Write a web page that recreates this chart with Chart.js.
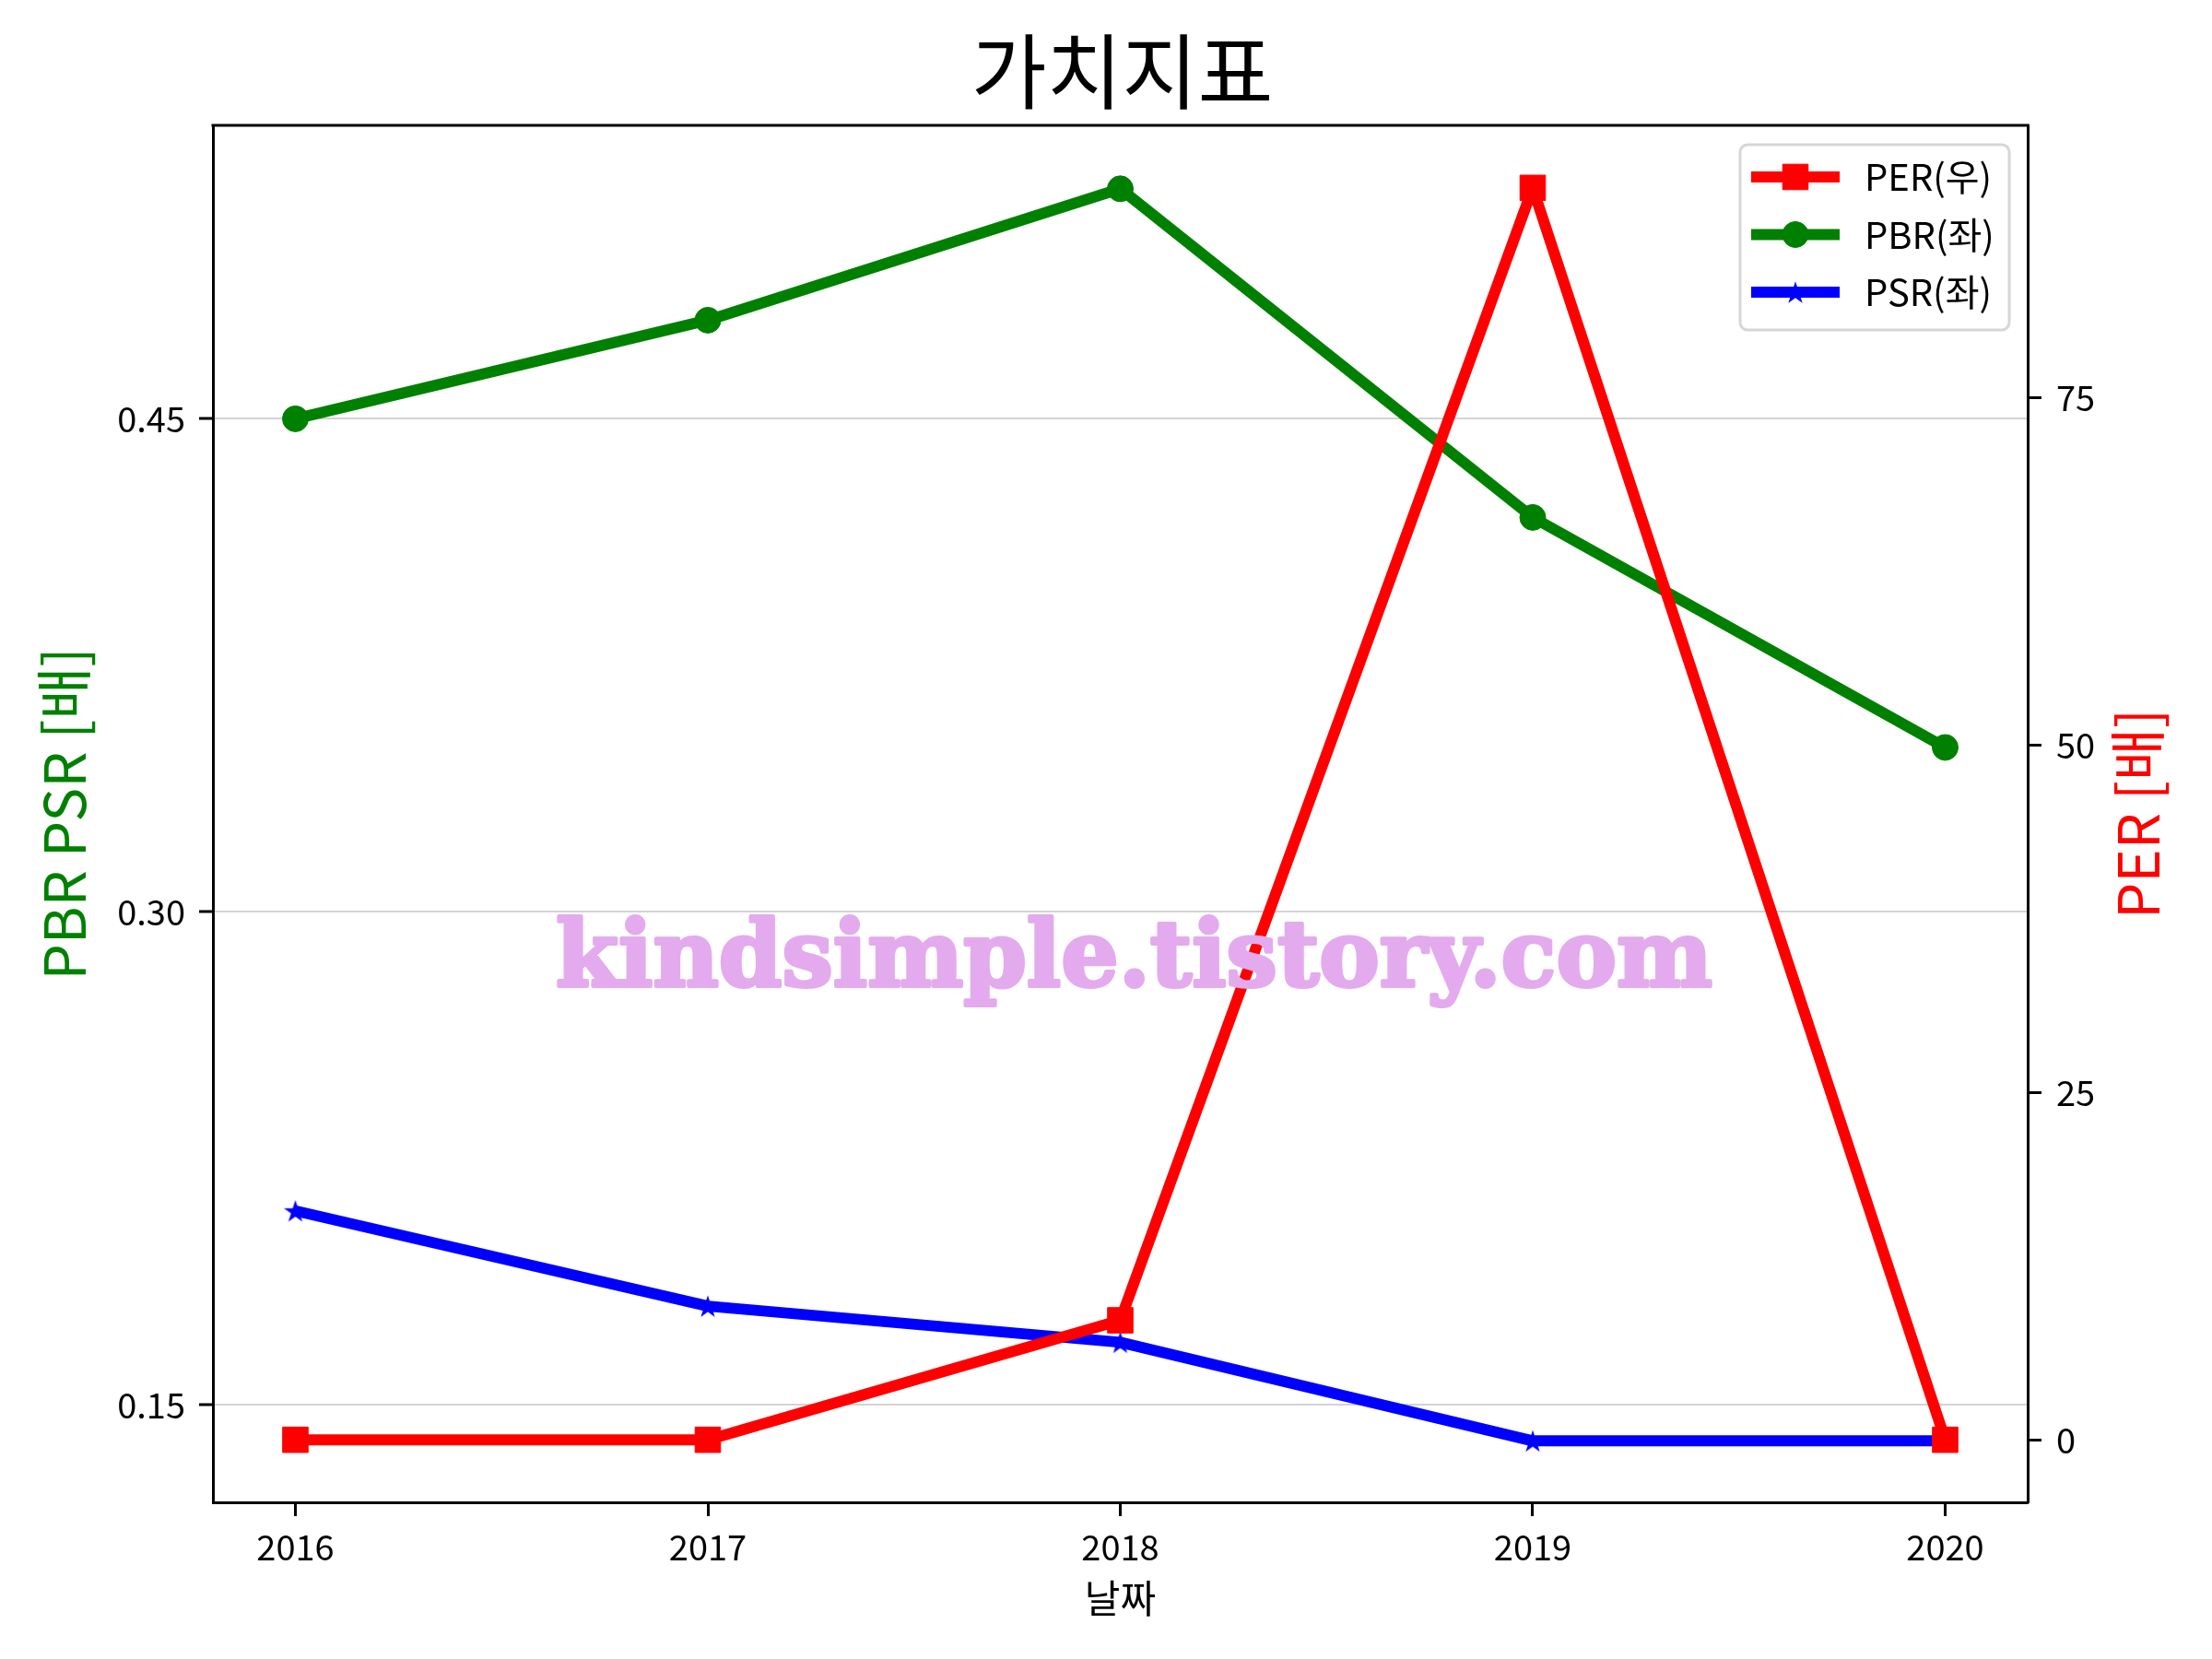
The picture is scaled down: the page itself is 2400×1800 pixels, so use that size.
<!DOCTYPE html>
<html>
<head>
<meta charset="utf-8">
<script src="https://cdn.jsdelivr.net/npm/chart.js@4.4.1/dist/chart.umd.min.js"></script>
<style>
  body { margin: 0; background: #fff; }
  canvas { display: block; }
</style>
</head>
<body>
<canvas id="valueChart" width="2400" height="1800"></canvas>
<script>
// 데이터
const years = [2016, 2017, 2018, 2019, 2020];
const perData = [0, 0, 8.6, 90.1, 0];
const pbrData = [0.45, 0.48, 0.52, 0.42, 0.35];
const psrData = [0.209, 0.18, 0.169, 0.139, 0.139];
const leftTicks = [0.15, 0.30, 0.45];
const rightTicks = [0, 25, 50, 75];
const seriesNames = ['PER(우)', 'PBR(좌)', 'PSR(좌)'];

const KR = '"Noto Sans CJK KR", "Noto Sans", sans-serif';

function starImage(r, color) {
    const c = document.createElement('canvas');
    const s = Math.ceil(r * 2 + 2);
    c.width = s;
    c.height = s;
    const ctx = c.getContext('2d');
    ctx.beginPath();
    for (let i = 0; i < 10; i++) {
        const rad = i % 2 === 0 ? r : r * 0.382;
        const a = -Math.PI / 2 + i * Math.PI / 5;
        const px = s / 2 + rad * Math.cos(a);
        const py = s / 2 + rad * Math.sin(a) + r * 0.1;
        if (i === 0) ctx.moveTo(px, py); else ctx.lineTo(px, py);
    }
    ctx.closePath();
    ctx.fillStyle = color;
    ctx.fill();
    return c;
}
const star = starImage(13, '#0000ff');

const toPoints = arr => arr.map((v, i) => ({ x: years[i], y: v }));

const decorations = {
    id: 'decorations',
    afterDatasetsDraw(chart) {
        const { ctx, chartArea: a } = chart;
        ctx.save();
        ctx.font = 'bold 100px "DejaVu Serif"';
        const w = ctx.measureText('kindsimple.tistory.com').width;
        const size = 100 * 1255 / w;
        ctx.font = 'bold ' + size + 'px "DejaVu Serif"';
        ctx.fillStyle = '#e4aaee';
        ctx.strokeStyle = '#e4aaee';
        ctx.lineWidth = 4;
        ctx.lineJoin = 'round';
        ctx.textBaseline = 'alphabetic';
        ctx.textAlign = 'left';
        ctx.strokeText('kindsimple.tistory.com', a.left + 372, a.top + 934);
        ctx.fillText('kindsimple.tistory.com', a.left + 372, a.top + 934);
        ctx.restore();
    },
    afterDraw(chart) {
        const { ctx, chartArea: a } = chart;
        const cx = (a.left + a.right) / 2;
        const cy = (a.top + a.bottom) / 2;
        ctx.save();

        // 윗 테두리
        ctx.strokeStyle = '#000';
        ctx.lineWidth = 3;
        ctx.beginPath();
        ctx.moveTo(a.left - 1.5, a.top);
        ctx.lineTo(a.right + 1.5, a.top);
        ctx.stroke();

        // 제목
        ctx.textAlign = 'center';
        ctx.textBaseline = 'middle';
        ctx.fillStyle = '#000';
        ctx.font = '89px ' + KR;
        ctx.fillText('가치지표', cx + 2, 77);

        ctx.font = '42px ' + KR;
        ctx.fillText('날짜', cx, a.bottom + 104);

        ctx.font = '62px ' + KR;
        ctx.fillStyle = '#008000';
        ctx.save();
        ctx.translate(69, cy);
        ctx.rotate(-Math.PI / 2);
        ctx.fillText('PBR PSR [배]', 0, 0);
        ctx.restore();

        ctx.fillStyle = '#ff0000';
        ctx.save();
        ctx.translate(a.right + 119, cy);
        ctx.rotate(-Math.PI / 2);
        ctx.fillText('PER [배]', 0, 0);
        ctx.restore();

        // 범례
        const bx = a.right - 312, by = a.top + 21, bw = 292, bh = 201;
        ctx.beginPath();
        ctx.roundRect(bx, by, bw, bh, 8);
        ctx.fillStyle = 'rgba(255,255,255,0.8)';
        ctx.fill();
        ctx.strokeStyle = '#d6d6d6';
        ctx.lineWidth = 3;
        ctx.stroke();

        chart.data.datasets.forEach((ds, i) => {
            const y = by + 35 + i * 62.5;
            ctx.strokeStyle = ds.borderColor;
            ctx.lineWidth = ds.borderWidth;
            ctx.lineCap = 'butt';
            ctx.beginPath();
            ctx.moveTo(bx + 12, y);
            ctx.lineTo(bx + 108, y);
            ctx.stroke();
            ctx.fillStyle = ds.pointBackgroundColor;
            ctx.lineWidth = ds.pointBorderWidth;
            Chart.helpers.drawPoint(ctx, {
                pointStyle: ds.pointStyle,
                radius: ds.pointRadius,
                borderWidth: ds.pointBorderWidth,
                rotation: 0
            }, bx + 60, y);
            ctx.fillStyle = '#000';
            ctx.font = '40px ' + KR;
            ctx.textAlign = 'left';
            ctx.fillText(ds.label, bx + 135, y);
        });
        ctx.restore();
    }
};

const tickFont = { family: KR, size: 38 };

new Chart(document.getElementById('valueChart'), {
    type: 'line',
    data: {
        datasets: [
            {
                label: seriesNames[0],
                data: toPoints(perData),
                yAxisID: 'y1',
                borderColor: '#ff0000',
                backgroundColor: '#ff0000',
                pointBackgroundColor: '#ff0000',
                pointBorderColor: '#ff0000',
                borderWidth: 12,
                pointStyle: 'rect',
                pointRadius: 19.5,
                pointBorderWidth: 1,
                borderJoinStyle: 'round',
                tension: 0
            },
            {
                label: seriesNames[1],
                data: toPoints(pbrData),
                yAxisID: 'y',
                borderColor: '#008000',
                backgroundColor: '#008000',
                pointBackgroundColor: '#008000',
                pointBorderColor: '#008000',
                borderWidth: 12,
                pointStyle: 'circle',
                pointRadius: 14,
                pointBorderWidth: 1,
                borderJoinStyle: 'round',
                tension: 0
            },
            {
                label: seriesNames[2],
                data: toPoints(psrData),
                yAxisID: 'y',
                borderColor: '#0000ff',
                backgroundColor: '#0000ff',
                pointBackgroundColor: '#0000ff',
                pointBorderColor: '#0000ff',
                borderWidth: 12,
                pointStyle: star,
                pointRadius: 13,
                pointBorderWidth: 0,
                borderJoinStyle: 'round',
                tension: 0
            }
        ]
    },
    options: {
        responsive: false,
        animation: false,
        layout: {
            padding: { top: 136, left: 0, right: 0, bottom: 0 }
        },
        scales: {
            x: {
                type: 'linear',
                position: 'bottom',
                min: 2015.8,
                max: 2020.2,
                afterBuildTicks: s => { s.ticks = years.map(v => ({ value: v })); },
                afterFit: s => { s.height = 170; },
                ticks: {
                    callback: v => String(v),
                    font: tickFont,
                    color: '#000',
                    padding: 11,
                    maxRotation: 0
                },
                grid: {
                    drawOnChartArea: false,
                    tickLength: 15,
                    tickWidth: 3,
                    tickColor: '#000'
                },
                border: { color: '#000', width: 3 }
            },
            y: {
                type: 'linear',
                position: 'left',
                min: 0.1203,
                max: 0.5393,
                afterBuildTicks: s => { s.ticks = leftTicks.map(v => ({ value: v })); },
                afterFit: s => { s.width = 231; },
                ticks: {
                    callback: v => v.toFixed(2),
                    font: tickFont,
                    color: '#000',
                    padding: 15
                },
                grid: {
                    color: '#d3d3d3',
                    lineWidth: 2,
                    tickLength: 15,
                    tickWidth: 3,
                    tickColor: '#000'
                },
                border: { color: '#000', width: 3 }
            },
            y1: {
                type: 'linear',
                position: 'right',
                min: -4.5,
                max: 94.6,
                afterBuildTicks: s => { s.ticks = rightTicks.map(v => ({ value: v })); },
                afterFit: s => { s.width = 200; },
                ticks: {
                    callback: v => String(v),
                    font: tickFont,
                    color: '#000',
                    padding: 16
                },
                grid: {
                    drawOnChartArea: false,
                    tickLength: 15,
                    tickWidth: 3,
                    tickColor: '#000'
                },
                border: { color: '#000', width: 3 }
            }
        },
        plugins: {
            legend: { display: false },
            tooltip: { enabled: false },
            title: { display: false }
        }
    },
    plugins: [decorations]
});
</script>
</body>
</html>
